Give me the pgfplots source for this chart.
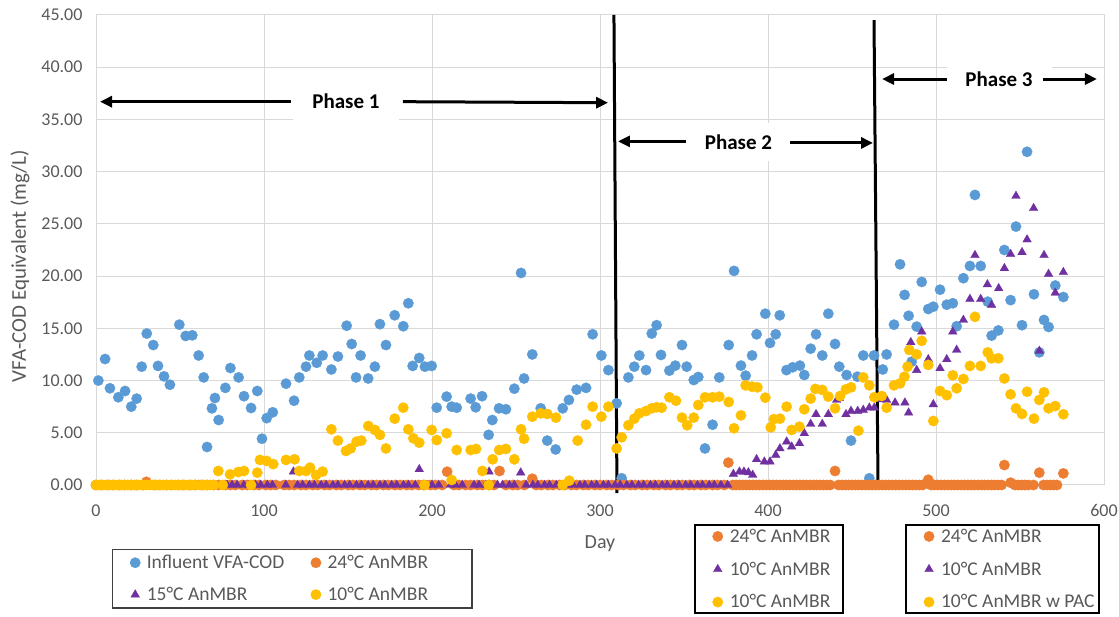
\documentclass[border=0pt]{standalone}
\usepackage{pgfplots}
\pgfplotsset{compat=1.18}
\usepackage{pgfplotstable}
\usepackage{fontspec}
\setmainfont{Carlito}
\usetikzlibrary{arrows.meta}
\definecolor{cblue}{HTML}{5B9BD5}
\definecolor{corange}{HTML}{ED7D31}
\definecolor{cpurple}{HTML}{7030A0}
\definecolor{cyellow}{HTML}{FFC000}
\definecolor{ctext}{HTML}{595959}
\definecolor{cgrid}{HTML}{D9D9D9}

\pgfplotstableread{
x y
1.4 10.0
5.4 12.06
8.3 9.26
13.3 8.4
17.3 9.0
21.0 7.5
24.2 8.27
27.2 11.33
30.2 14.5
34.1 13.4
36.9 11.4
40.5 10.4
44.0 9.6
49.6 15.35
53.4 14.27
57.3 14.33
61.1 12.4
64.1 10.3
66.1 3.64
69.0 7.34
70.8 8.33
73.0 6.22
77.0 9.3
80.0 11.2
84.9 10.3
88.1 8.5
92.3 7.37
96.0 9.0
98.8 4.43
101.6 6.4
105.2 6.96
113.1 9.7
117.9 8.07
121.0 10.3
125.0 11.33
127.0 12.4
131.4 11.7
134.9 12.4
140.1 11.06
144.0 12.3
149.2 15.25
152.2 13.5
154.8 10.3
157.5 12.4
162.0 10.2
166.0 11.33
169.0 15.4
172.6 13.4
177.8 16.25
182.9 15.2
185.9 17.4
188.5 11.4
192.4 12.16
195.8 11.33
199.8 11.4
202.8 7.4
208.7 8.46
211.7 7.5
214.7 7.4
223.0 8.27
226.0 7.44
229.8 8.5
233.7 4.8
235.9 6.22
239.9 7.34
244.0 7.25
249.0 9.22
253.0 20.3
254.8 10.2
259.7 12.5
264.7 7.34
268.6 4.25
273.6 3.4
277.8 7.34
281.5 8.14
286.1 9.13
291.7 9.3
295.6 14.43
300.8 12.4
305.0 11.0
309.9 7.82
312.9 0.64
316.9 10.3
320.4 11.33
323.4 12.4
327.4 11.0
330.8 14.5
333.7 15.3
336.3 12.45
341.3 10.95
344.8 11.43
348.8 13.4
351.6 11.33
355.8 10.05
358.5 10.34
362.5 3.5
367.0 5.77
371.0 10.3
376.6 13.4
379.8 20.5
383.9 11.43
386.7 10.47
390.5 12.4
393.2 14.43
398.4 16.4
401.2 13.6
404.6 14.43
407.0 16.25
411.0 11.0
414.7 11.27
419.0 11.43
421.6 10.53
425.4 13.05
428.6 14.43
432.3 12.4
435.9 16.4
439.9 13.5
442.4 11.33
446.8 10.53
449.4 4.25
453.2 10.37
456.7 12.4
460.3 0.64
463.1 12.4
468.3 11.06
470.6 12.5
475.0 15.35
478.6 21.13
481.3 18.2
483.7 16.2
485.5 11.8
488.5 15.16
491.5 19.44
495.4 16.85
498.4 17.07
502.4 18.7
506.4 17.26
510.0 17.4
512.3 15.2
516.3 19.8
520.2 20.97
523.2 27.77
526.6 20.97
530.8 17.55
533.1 14.3
537.1 14.8
540.7 22.5
544.4 17.7
547.6 24.74
551.2 15.3
554.2 31.9
558.3 18.26
561.5 12.7
564.3 15.8
567.0 15.13
571.0 19.1
575.8 18.0
}\influent

\pgfplotstableread{
x y
0 0
3 0
7 0
10 0
14 0
17 0
21 0
24 0
28 0
30 0.3
35 0
38 0
42 0
45 0
49 0
52 0
56 0
59 0
63 0
66 0
70 0
73 0
77 0
80 0
83 0
87 0
90 0
94 0
97 0
101 0
104 0
107 0
112 0
115 0
118 0
122 0
125 0
129 0
132 0
136 0
139 0
143 0
146 0
150 0
153 0
157 0
160 0
164 0
167 0
171 0
174 0
178 0
181 0
185 0
188 0
192 0
195 0
199 0
202 0
206 0
209 1.27
213 0
216 0
220 0
223 0
227 0
230 0
234 0
237 0
240.2 1.34
244 0
248 0
251 0
255 0
259.7 0.6
262 0
265 0
269 0
272 0
276 0
279 0
283 0
286 0
290 0
293 0
297 0
300 0
304 0
307 0
311 0
314 0
318 0
321 0
325 0
328 0
332 0
335 0
339 0
342 0
346 0
349 0
353 0
356 0
360 0
363 0
367 0
370 0
374 0
376.4 2.14
379 0
381 0
383 0
385 0
387 0
389 0
391 0
393 0
395 0
397 0
399 0
401 0
403 0
405 0
407 0
409 0
411 0
413 0
415 0
417 0
419 0
421 0
423 0
425 0
427 0
429 0
431 0
433 0
435 0
437 0
439.9 1.34
442 0
444 0
446 0
448 0
450 0
452 0
454 0
456 0
458 0
460 0
462 0
464 0
466 0
468 0
470 0
472 0
474 0
476 0
478 0
480 0
482 0
484 0
486 0
488 0
490 0
492 0
495.4 0.5
497 0
499 0
501 0
503 0
505 0
507 0
509 0
511 0
513 0
515 0
517 0
519 0
521 0
523 0
525 0
527 0
529 0
531 0
533 0
535 0
537 0
539 0
540.7 1.91
544.4 0.22
547 0
549 0
551 0
553 0
555 0
558 0
561.5 1.18
564 0
566 0
568 0
570 0
572 0
575.8 1.11
}\orange

\pgfplotstableread{
x y
61 0
78 0
81 0
84 0
88 0
91 0
95 0
98 0
102 0
105 0
113 0
117.5 1.27
120 0
123 0
127 0
130 0
134 0
137 0
141 0
144 0
148 0
151 0
155 0
158 0
162 0
165 0
169 0
172 0
176 0
179 0
183 0
186 0
190 0
192.4 1.5
197 0
200 0
204 0
211 0
214 0
218 0
225 0
228 0
232 0
234 1.27
239 0
242 0
246 0
249 0
252.8 1.18
256 0
260 0
263 0
267 0
270 0
274 0
281 0
284 0
288 0
291 0
295 0
298 0
302 0
305 0
309 0
312 0
316 0
319 0
323 0
326 0
330 0
333 0
337 0
340 0
344 0
347 0
351 0
354 0
358 0
361 0
365 0
368 0
372 0
376 0
379.4 1.05
383.0 1.27
385.7 1.27
388.3 1.2
390.9 0.96
393.2 2.46
397.8 2.23
401.2 2.23
404.6 2.87
407.1 3.5
411.1 4.15
414.1 3.67
418.7 3.99
421.6 4.95
425.4 5.84
428.6 6.77
432.3 5.84
435.9 6.77
440.9 8.14
442.4 8.3
446.4 6.77
449.4 7.08
453.4 7.08
456.7 7.18
460.3 7.4
463.3 7.4
467.7 8.2
470.6 8.14
475.6 7.88
481.5 7.88
483.7 6.92
485.0 13.66
488.5 11.0
491.5 14.68
495.4 12.03
498.4 7.72
502.4 11.17
506.4 12.03
510.0 14.68
512.3 12.93
516.3 15.8
520.2 17.8
523.2 22.0
526.6 17.8
530.6 19.2
533.1 17.23
537.3 18.83
540.7 20.75
544.4 22.1
547.6 27.67
551.2 22.28
554.2 23.5
558.1 26.5
561.5 12.83
564.3 22.0
567.0 20.2
571.0 18.4
575.8 20.37
}\purple

\pgfplotstableread{
x y
0 0
2 0
4 0
6 0
8 0
11 0
13 0
15 0
17 0
19 0
21 0
23 0
25 0
28 0
30 0
32 0
34 0
36 0
38 0
40 0
42 0
45 0
47 0
49 0
51 0
53 0
55 0
57 0
59 0
62 0
64 0
66 0
68 0
70 0
72.8 1.34
75.5 0
79.8 1.02
84.7 1.24
88.1 1.34
92.3 0
96.0 1.18
97.6 2.4
101.6 2.3
105.5 2.0
113.1 2.4
118.2 2.46
121.0 1.34
125.0 1.34
127.4 1.66
131.0 0.96
134.9 1.28
140.1 5.33
144.0 4.25
148.8 3.26
151.6 3.5
155.1 4.15
157.9 4.25
162.1 5.65
166.0 5.27
169.0 4.8
172.6 3.5
177.8 6.35
182.9 7.4
185.9 5.33
188.9 4.47
192.4 4.05
195.6 0
199.8 5.27
202.8 4.3
208.7 4.95
211.7 0.48
214.7 3.35
223.0 3.35
226.2 3.45
230.0 1.34
233.7 0
236.1 2.46
240.0 3.35
244.0 3.45
249.0 2.46
253.0 5.33
254.8 4.43
259.7 6.54
264.7 6.86
268.6 6.8
273.8 6.45
277.8 0
281.7 0.41
286.7 4.25
291.7 5.77
295.6 7.5
300.8 6.54
305.0 7.5
309.9 3.5
312.9 4.57
316.9 5.72
320.4 6.35
323.4 6.86
327.4 7.08
330.8 7.34
333.7 7.44
336.7 7.4
341.3 8.4
345.2 8.07
348.8 6.45
351.9 5.72
355.8 6.45
358.5 7.66
362.5 8.4
367.0 8.4
371.0 8.46
376.6 7.95
379.8 5.43
383.9 6.67
386.7 9.54
390.5 9.41
393.7 9.35
398.4 8.36
401.6 5.52
403.5 6.3
407.1 6.35
411.1 7.5
414.1 5.27
418.7 5.58
421.6 7.25
425.4 8.27
428.2 9.2
432.3 9.1
435.9 8.46
439.9 7.34
442.9 8.52
446.4 9.16
449.4 9.35
453.8 5.2
456.7 10.3
460.3 9.54
463.3 8.4
467.7 8.52
470.6 7.4
475.0 9.54
478.6 9.73
481.2 10.37
483.1 11.33
484.1 12.93
488.5 12.5
491.5 13.8
495.4 11.5
498.4 6.13
502.4 9.0
506.4 8.6
510.0 10.5
512.3 9.26
516.3 10.15
520.2 11.4
523.2 16.1
526.6 11.4
530.8 12.7
533.1 12.13
537.1 12.13
540.7 10.2
544.4 8.68
547.6 7.34
551.2 6.8
554.2 8.93
558.3 6.35
561.5 8.14
564.3 8.87
567.0 7.34
571.0 7.56
575.8 6.77
}\yellow

\pgfplotsset{
  every axis legend/.append style={fill=white},
  legend image code/.code={\path (-20pt,0pt) (9pt,0pt); \draw[#1, only marks] plot coordinates {(0pt,0pt)};},
  sblue/.style={only marks, mark=*, mark size=5.2pt, mark options={draw=cblue, fill=cblue, line width=0.3pt}},
  sorange/.style={only marks, mark=*, mark size=5.2pt, mark options={draw=corange, fill=corange, line width=0.3pt}},
  spurple/.style={only marks, mark=triangle*, mark size=5pt, mark options={draw=cpurple, fill=cpurple, line width=0.3pt}},
  syellow/.style={only marks, mark=*, mark size=5.2pt, mark options={draw=cyellow, fill=cyellow, line width=0.3pt}},
  legfont/.style={font=\fontsize{19.5}{19.5}\selectfont, text=ctext},
}

\begin{document}
\begin{tikzpicture}
\path[use as bounding box] (0,0) rectangle (1119pt,617pt);
\begin{axis}[
  at={(96pt,132pt)}, anchor=south west,
  scale only axis, width=1008pt, height=470pt,
  xmin=0, xmax=600, ymin=0, ymax=45,
  xtick={0,100,...,600}, ytick={0,5,...,45},
  grid=major, major grid style={cgrid, line width=1pt},
  axis line style={cgrid, line width=1pt},
  tick style={draw=none},
  /pgf/number format/assume math mode=true,
  yticklabel style={/pgf/number format/.cd, fixed, fixed zerofill, precision=2, /tikz/.cd, font=\fontsize{18}{18}\selectfont, color=ctext, anchor=east, xshift=-10pt},
  xticklabel style={font=\fontsize{18}{18}\selectfont, color=ctext, yshift=-16pt},
  xlabel={Day}, ylabel={VFA-COD Equivalent (mg/L)},
  xlabel style={at={(axis description cs:0.5,-0.125)}, anchor=center, font=\fontsize{20}{20}\selectfont, color=ctext},
  ylabel style={at={(axis description cs:-0.0754,0.466)}, anchor=center, font=\fontsize{21}{21}\selectfont, color=ctext},
  clip=false,
  legend columns=2,
  legend cell align=left,
  legend style={at={(0.0159,-0.1355)}, anchor=north west, draw=black!75, line width=1.2pt, legfont,
    inner xsep=2pt, inner ysep=4pt, row sep=13pt},
]
\addplot[sblue] table {\influent};
\addlegendentry{Influent VFA-COD\hspace*{9pt}}
\addplot[sorange] table {\orange};
\addlegendentry{24°C AnMBR\hspace*{40pt}}
\addplot[spurple] table {\purple};
\addlegendentry{15°C AnMBR}
\addplot[syellow] table {\yellow};
\addlegendentry{10°C AnMBR}

\draw[line width=3pt] (axis cs:308.3,45) -- (axis cs:310.1,-0.77);
\draw[line width=3pt] (axis cs:463.1,44.5) -- (axis cs:465.5,-0.3);

\node[fill=white, font=\bfseries\fontsize{21}{21}\selectfont, minimum width=106pt, minimum height=38pt, inner sep=0pt] at (axis cs:148.8,36.7) {Phase 1};
\draw[line width=3pt, -{Triangle[length=12pt,width=11pt]}] (axis cs:116,36.7) -- (axis cs:2.4,36.7);
\draw[line width=3pt, -{Triangle[length=12pt,width=11pt]}] (axis cs:182.7,36.7) -- (axis cs:304.8,36.6);

\node[fill=white, font=\bfseries\fontsize{21}{21}\selectfont, minimum width=100pt, minimum height=38pt, inner sep=0pt] at (axis cs:382.4,32.84) {Phase 2};
\draw[line width=3pt, -{Triangle[length=12pt,width=11pt]}] (axis cs:351.2,32.9) -- (axis cs:310.7,32.9);
\draw[line width=3pt, -{Triangle[length=12pt,width=11pt]}] (axis cs:413.1,32.75) -- (axis cs:462.5,32.75);

\node[fill=white, font=\bfseries\fontsize{21}{21}\selectfont, minimum width=105pt, minimum height=38pt, inner sep=0pt] at (axis cs:537.5,38.87) {Phase 3};
\draw[line width=3pt, -{Triangle[length=12pt,width=11pt]}] (axis cs:506.5,38.87) -- (axis cs:467.9,38.87);
\draw[line width=3pt, -{Triangle[length=12pt,width=11pt]}] (axis cs:563.7,38.87) -- (axis cs:595.8,38.87);
\end{axis}

\begin{axis}[
  at={(96pt,132pt)}, anchor=south west,
  scale only axis, width=1008pt, height=470pt,
  xmin=0, xmax=1, ymin=0, ymax=1, hide axis,
  legend cell align=left,
  legend style={at={(0.593,-0.083)}, anchor=north west, draw=black, line width=2pt, legfont,
    inner xsep=2pt, inner ysep=2pt, row sep=14pt},
]
\addlegendimage{sorange}
\addlegendentry{24°C AnMBR\hspace*{9pt}}
\addlegendimage{spurple}
\addlegendentry{10°C AnMBR}
\addlegendimage{syellow}
\addlegendentry{10°C AnMBR}
\end{axis}

\begin{axis}[
  at={(96pt,132pt)}, anchor=south west,
  scale only axis, width=1008pt, height=470pt,
  xmin=0, xmax=1, ymin=0, ymax=1, hide axis,
  legend cell align=left,
  legend style={at={(0.8026,-0.083)}, anchor=north west, draw=black, line width=2pt, legfont,
    inner xsep=2pt, inner ysep=2pt, row sep=14pt},
]
\addlegendimage{sorange}
\addlegendentry{24°C AnMBR}
\addlegendimage{spurple}
\addlegendentry{10°C AnMBR}
\addlegendimage{syellow}
\addlegendentry{10°C AnMBR w PAC}
\end{axis}
\end{tikzpicture}
\end{document}
